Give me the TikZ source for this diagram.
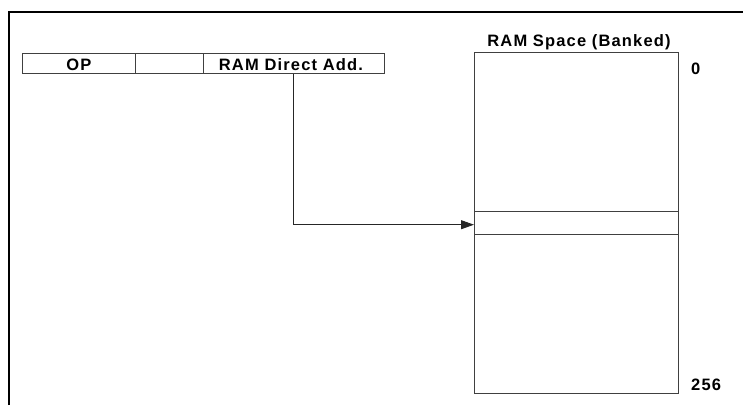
\documentclass[tikz,border=0pt]{standalone}
\usepackage{fontspec}
\setmainfont{Liberation Sans}
\newfontfamily\lblfont{Liberation Sans}[LetterSpace=7]
\usetikzlibrary{arrows.meta}
\begin{document}
\begin{tikzpicture}[x=1pt,y=-1pt,
  lbl/.style={font=\lblfont\fontsize{16.5}{18}\selectfont\bfseries, inner sep=0pt},
  cell/.style={draw=black!75, line width=0.9pt},
  frame/.style={draw=black, line width=2pt},
  conn/.style={draw=black!85, line width=0.9pt, -{Triangle[length=13pt,width=9pt]}}]
\useasboundingbox (0,0) rectangle (743,405);
% frame
\draw[frame] (9,405) -- (9,12) -- (743,12);
% instruction word
\node[cell, minimum width=113pt, minimum height=20pt, anchor=north west, inner sep=0pt] (op) at (22,53) {};
\node[cell, minimum width=68pt, minimum height=20pt, anchor=north west, inner sep=0pt] (mid) at (135,53) {};
\node[cell, minimum width=181pt, minimum height=20pt, anchor=north west, inner sep=0pt] (addr) at (203,53) {};
\node[lbl, anchor=base] at ([yshift=-7pt]op.center) {OP};
\node[lbl, anchor=base] at ([xshift=-3pt,yshift=-7pt]addr.center) {RAM Direct Add.};
% RAM space
\node[cell, minimum width=204pt, minimum height=159pt, anchor=north west, inner sep=0pt] (top) at (474,52) {};
\node[cell, minimum width=204pt, minimum height=22.5pt, anchor=north west, inner sep=0pt] (sel) at (474,211) {};
\node[cell, minimum width=204pt, minimum height=159pt, anchor=north west, inner sep=0pt] (bot) at (474,233.5) {};
\node[lbl, anchor=base] (title) at (579,46) {RAM Space (Banked)};
\node[lbl, anchor=base west] (zero) at (691,74) {0};
\node[lbl, anchor=base west] (end) at (691,390) {256};
% connector
\coordinate (bend) at (293,224.7);
\draw[conn] (addr.south -| bend) -- (bend) -- (bend -| sel.west);
\end{tikzpicture}
\end{document}
